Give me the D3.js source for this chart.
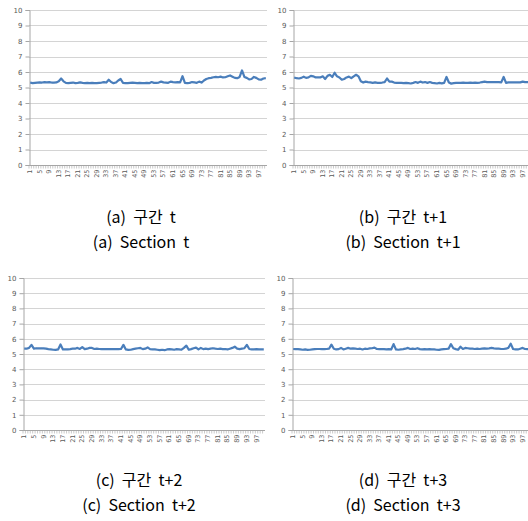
<!DOCTYPE html>
<html><head><meta charset="utf-8">
<script src="https://cdn.jsdelivr.net/npm/d3@7"></script>
<style>
html,body{margin:0;padding:0;background:#fff;}
svg{display:block;}
</style></head>
<body>
<svg id="c" width="528" height="521"></svg>
<script>
// ---- data ----
const categories = d3.range(1, 101);
const yTicks = [0,1,2,3,4,5,6,7,8,9,10];
const xTickLabels = categories.filter(c => (c - 1) % 4 === 0);

const seriesA = [5.32,5.28,5.3,5.32,5.33,5.32,5.35,5.33,5.35,5.32,
5.32,5.33,5.4,5.58,5.4,5.3,5.28,5.3,5.32,5.28,
5.3,5.33,5.3,5.28,5.3,5.28,5.3,5.28,5.28,5.3,
5.32,5.35,5.32,5.5,5.35,5.28,5.32,5.45,5.55,5.3,
5.28,5.28,5.3,5.32,5.3,5.28,5.3,5.28,5.28,5.3,
5.28,5.35,5.3,5.3,5.32,5.38,5.33,5.32,5.3,5.38,
5.35,5.33,5.35,5.33,5.73,5.3,5.28,5.3,5.35,5.33,
5.3,5.38,5.32,5.45,5.55,5.6,5.62,5.66,5.68,5.66,
5.7,5.65,5.66,5.72,5.78,5.7,5.62,5.6,5.68,6.1,
5.68,5.62,5.52,5.55,5.68,5.62,5.52,5.5,5.58,5.6];

const seriesB = [5.65,5.6,5.58,5.62,5.7,5.62,5.65,5.75,5.72,5.65,
5.65,5.65,5.72,5.55,5.75,5.82,5.68,5.95,5.72,5.65,
5.5,5.55,5.65,5.7,5.6,5.72,5.82,5.72,5.4,5.32,
5.38,5.35,5.33,5.3,5.33,5.3,5.3,5.32,5.35,5.58,
5.38,5.38,5.32,5.3,5.3,5.3,5.28,5.3,5.28,5.26,
5.3,5.35,5.3,5.38,5.32,5.35,5.3,5.35,5.3,5.28,
5.26,5.3,5.27,5.3,5.68,5.32,5.25,5.28,5.3,5.3,
5.3,5.32,5.3,5.3,5.32,5.3,5.32,5.3,5.32,5.35,
5.38,5.35,5.35,5.35,5.35,5.35,5.35,5.33,5.68,5.3,
5.33,5.33,5.33,5.33,5.33,5.33,5.38,5.35,5.35,5.33];

const seriesC = [5.35,5.35,5.4,5.6,5.35,5.38,5.37,5.38,5.37,5.35,
5.32,5.3,5.28,5.27,5.3,5.63,5.3,5.3,5.3,5.32,
5.35,5.35,5.4,5.33,5.45,5.32,5.35,5.4,5.4,5.33,
5.35,5.33,5.32,5.32,5.32,5.32,5.32,5.32,5.32,5.32,
5.33,5.6,5.3,5.27,5.28,5.32,5.35,5.38,5.4,5.32,
5.35,5.43,5.32,5.3,5.3,5.28,5.25,5.28,5.25,5.3,
5.32,5.3,5.28,5.32,5.3,5.28,5.4,5.55,5.28,5.32,
5.38,5.42,5.3,5.4,5.32,5.35,5.32,5.35,5.38,5.35,
5.33,5.35,5.32,5.33,5.3,5.35,5.4,5.48,5.35,5.32,
5.35,5.38,5.6,5.33,5.3,5.3,5.32,5.3,5.3,5.3];

const seriesD = [5.33,5.32,5.32,5.3,5.28,5.3,5.27,5.28,5.3,5.32,
5.33,5.33,5.32,5.32,5.33,5.35,5.62,5.35,5.3,5.32,
5.4,5.3,5.35,5.4,5.35,5.37,5.35,5.33,5.35,5.3,
5.35,5.33,5.37,5.38,5.42,5.33,5.32,5.33,5.32,5.3,
5.32,5.3,5.65,5.3,5.28,5.3,5.32,5.35,5.4,5.33,
5.35,5.33,5.38,5.32,5.3,5.32,5.3,5.32,5.3,5.3,
5.28,5.27,5.3,5.32,5.33,5.35,5.65,5.38,5.32,5.28,
5.48,5.33,5.4,5.38,5.35,5.35,5.33,5.35,5.33,5.35,
5.37,5.35,5.37,5.4,5.37,5.35,5.35,5.33,5.33,5.35,
5.4,5.68,5.33,5.3,5.3,5.35,5.4,5.33,5.32,5.3];

const captionsKo = ["(a)  구간  t", "(b)  구간  t+1", "(c)  구간  t+2", "(d)  구간  t+3"];
const captionsEn = ["(a)  Section  t", "(b)  Section  t+1", "(c)  Section  t+2", "(d)  Section  t+3"];

// ---- layout ----
const panels = [
  {data: seriesA, left: 29,  right: 267, top: 10,  bottom: 165, cx: 141, cy1: 216, cy2: 241},
  {data: seriesB, left: 293, right: 531, top: 10,  bottom: 165, cx: 403, cy1: 216, cy2: 241},
  {data: seriesC, left: 23,  right: 265, top: 278, bottom: 430, cx: 139, cy1: 479, cy2: 504},
  {data: seriesD, left: 292, right: 531, top: 278, bottom: 430, cx: 403, cy1: 479, cy2: 504}
];

const svg = d3.select("#c");
const font = "'Noto Sans CJK KR', sans-serif";

panels.forEach((p, k) => {
  const g = svg.append("g");
  const x = d3.scaleBand().domain(categories).range([p.left, p.right]);
  const y = d3.scaleLinear().domain([0, 10]).range([p.bottom, p.top]);

  // gridlines
  g.append("g").selectAll("line").data(yTicks.filter(v => v > 0)).join("line")
    .attr("x1", p.left).attr("x2", p.right)
    .attr("y1", d => Math.round(y(d)) + 0.5).attr("y2", d => Math.round(y(d)) + 0.5)
    .attr("stroke", "#d4d4d4").attr("stroke-width", 1);

  // y axis
  const ya = g.append("g").attr("transform", `translate(${p.left + 0.5},0)`)
    .call(d3.axisLeft(y).tickValues(yTicks).tickSize(4).tickPadding(3).tickFormat(d3.format("d")));
  ya.select(".domain").attr("stroke", "#a6a6a6");
  ya.selectAll(".tick line").attr("stroke", "#a6a6a6");
  ya.selectAll("text").attr("fill", "#595959").style("font-size", "7px").style("font-family", "'DejaVu Sans', sans-serif");

  // x axis: ticks between categories
  const xa = g.append("g").attr("transform", `translate(0,${Math.round(p.bottom) + 0.5})`);
  xa.append("line").attr("x1", p.left).attr("x2", p.right).attr("stroke", "#a6a6a6");
  xa.selectAll("line.tk").data(categories).join("line").attr("class", "tk")
    .attr("x1", d => x(d)).attr("x2", d => x(d)).attr("y1", 0).attr("y2", 3)
    .attr("stroke", "#a6a6a6").attr("stroke-width", 0.6);
  xa.selectAll("text").data(xTickLabels).join("text")
    .attr("transform", d => `translate(${x(d) + x.bandwidth() / 2 + 2},4) rotate(-90)`)
    .attr("text-anchor", "end")
    .attr("fill", "#595959").style("font-size", "6.5px").style("font-family", "'DejaVu Sans', sans-serif")
    .text(d => d);

  // line
  const line = d3.line().x((d, i) => x(categories[i]) + x.bandwidth() / 2).y(d => y(d));
  g.append("path").datum(p.data).attr("d", line)
    .attr("fill", "none").attr("stroke", "#4a7ebb").attr("stroke-width", 2.2)
    .attr("stroke-linejoin", "round");

  // captions
  g.append("text").attr("x", p.cx).attr("y", p.cy1).attr("text-anchor", "middle")
    .attr("dominant-baseline", "central")
    .style("font-size", "16px").style("font-family", font).style("white-space", "pre").attr("fill", "#000")
    .text(captionsKo[k]);
  g.append("text").attr("x", p.cx).attr("y", p.cy2).attr("text-anchor", "middle")
    .attr("dominant-baseline", "central")
    .style("font-size", "16px").style("font-family", font).style("white-space", "pre").attr("fill", "#000")
    .text(captionsEn[k]);
});
</script>
</body></html>
